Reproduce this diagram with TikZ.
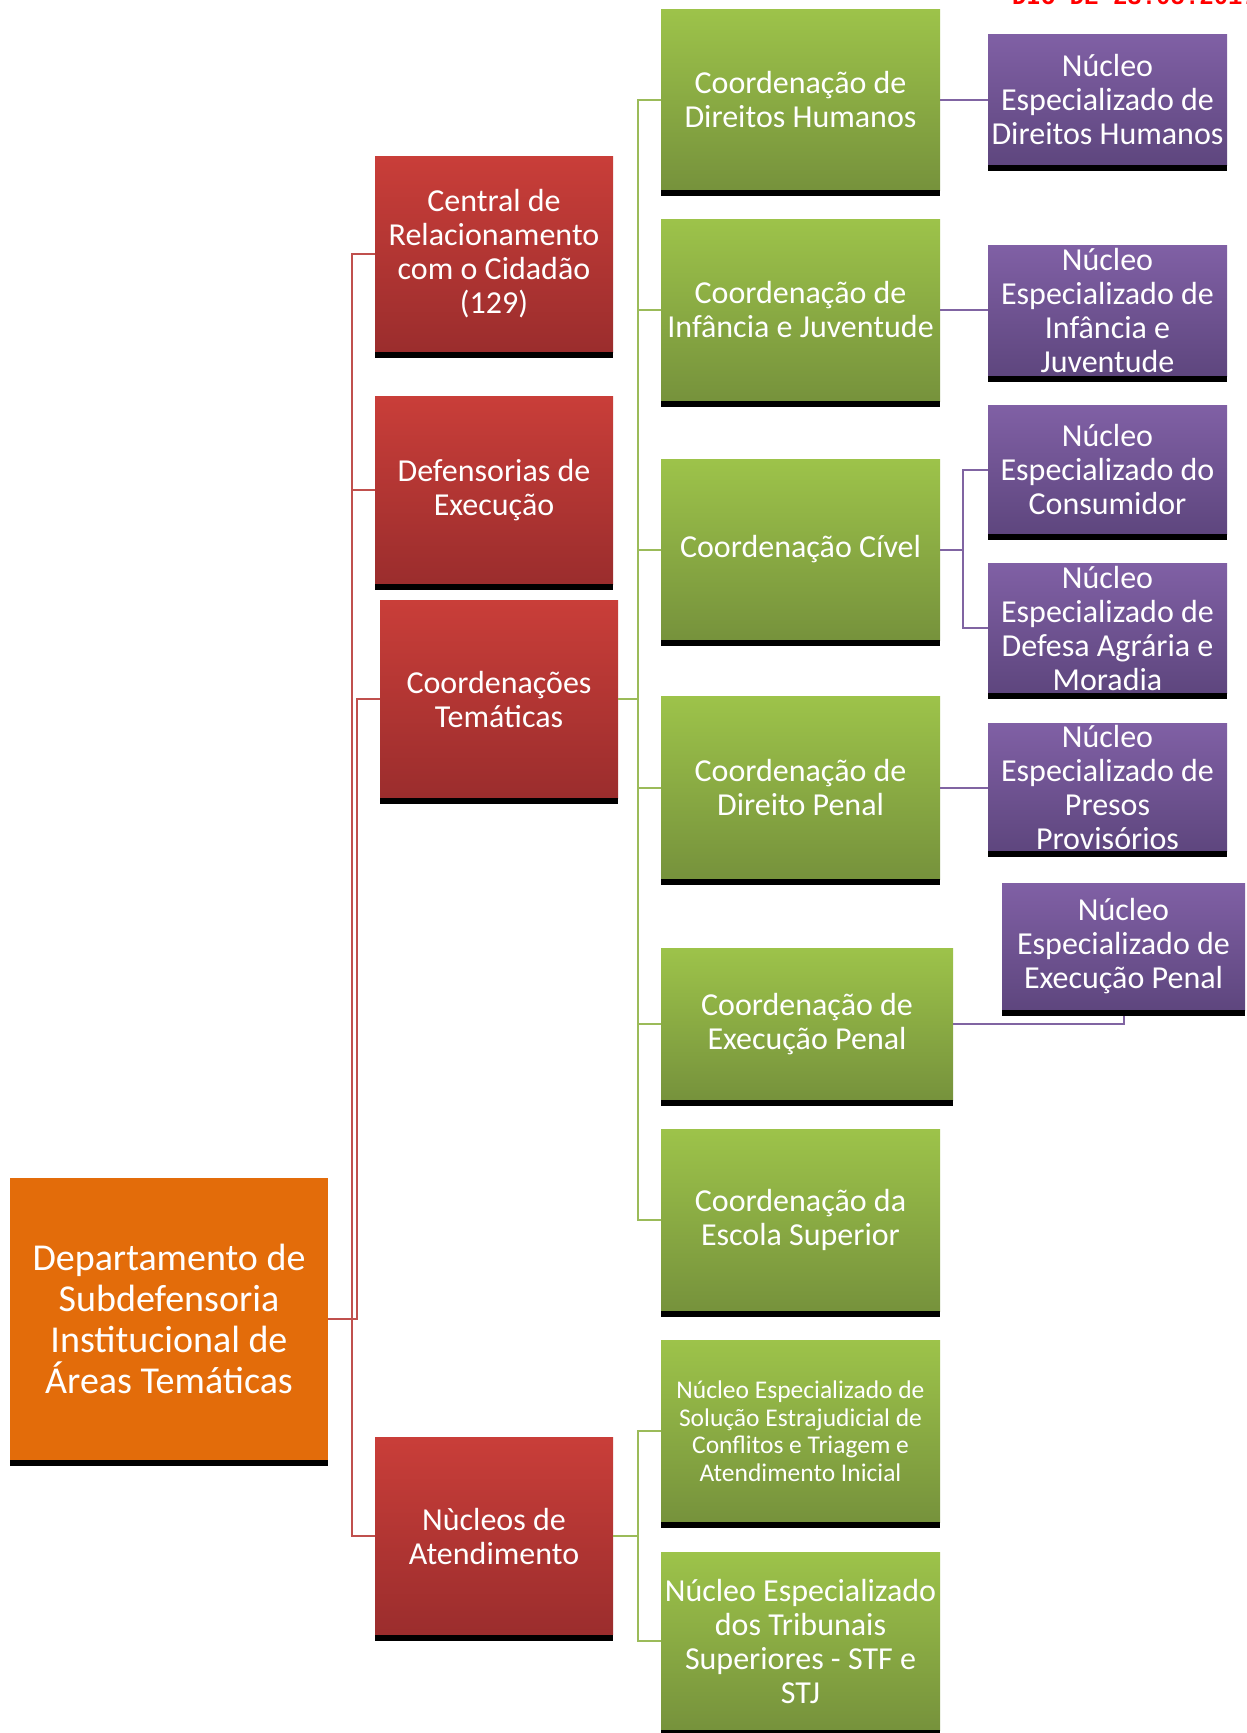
\documentclass[tikz,border=0pt]{standalone}
\usepackage{fontspec}
\setmainfont{Carlito}
\newfontfamily\datefont{Liberation Mono}

\definecolor{deporange}{RGB}{227,108,10}
\definecolor{redtop}{RGB}{201,62,57}
\definecolor{redbot}{RGB}{155,45,45}
\definecolor{greentop}{RGB}{157,195,74}
\definecolor{greenbot}{RGB}{118,146,60}
\definecolor{purpletop}{RGB}{128,96,165}
\definecolor{purplebot}{RGB}{94,70,126}
\definecolor{redlink}{RGB}{192,80,77}
\definecolor{greenlink}{RGB}{155,187,89}
\definecolor{purplelink}{RGB}{128,100,162}

\begin{document}
\begin{tikzpicture}[x=1pt,y=-1pt]
\tikzset{
	box/.style = {
		inner sep=0pt, align=center, text=white,
		font=\fontsize{32}{34}\selectfont
	},
	depbox/.style={
		box, fill=deporange,
		minimum width=318pt, minimum height=282pt,
		font=\fontsize{38}{41}\selectfont
	},
	redbox/.style={
		box, top color=redtop, bottom color=redbot,
		minimum width=238pt
	},
	greenbox/.style={
		box, top color=greentop, bottom color=greenbot,
		minimum width=279pt
	},
	purplebox/.style={
		box, top color=purpletop, bottom color=purplebot,
		minimum width=239pt
	},
	redline/.style={draw=redlink, line width=2pt},
	greenline/.style={draw=greenlink, line width=2pt},
	purpleline/.style={draw=purplelink, line width=2pt},
}

\useasboundingbox (0,0) rectangle (1247,1733);

% date stamp, cut off at the top
\begin{scope}
\clip (0,0) rectangle (1247,1733);
\node [anchor=base west, inner sep=0pt, text=red,
  font=\datefont\bfseries\fontsize{24}{24}\selectfont] (dio) at (1012,4) {DIO DE 23.05.2017};
\end{scope}

% the department
\node [depbox] (dep) at (169,1319) {Departamento de\\Subdefensoria\\Institucional de\\Áreas Temáticas};

% red level
\node [redbox, minimum height=196pt] (crc) at (494,254) {Central de\\Relacionamento\\com o Cidadão\\(129)};
\node [redbox, minimum height=188pt] (exe) at (494,490) {Defensorias de\\Execução};
\node [redbox, minimum height=198pt] (ct) at (499,699) {Coordenações\\Temáticas};
\node [redbox, minimum height=197pt] (nat) at (494,1536) {Nùcleos de\\Atendimento};

% green level
\node [greenbox, minimum height=181pt] (cdh) at (800.5,99.5) {Coordenação de\\Direitos Humanos};
\node [greenbox, minimum height=182pt] (cij) at (800.5,310) {Coordenação de\\Infância e Juventude};
\node [greenbox, minimum height=181pt] (cci) at (800.5,549.5) {Coordenação Cível};
\node [greenbox, minimum height=183pt] (cdp) at (800.5,787.5) {Coordenação de\\Direito Penal};
\node [greenbox, minimum width=292pt, minimum height=152pt] (cep) at (807,1024) {Coordenação de\\Execução Penal};
\node [greenbox, minimum height=182pt] (ces) at (800.5,1220) {Coordenação da\\Escola Superior};
\node [greenbox, minimum height=182pt, font=\fontsize{25.5}{27.5}\selectfont] (nsc) at (800.5,1431)
  {Núcleo Especializado de\\Solução Estrajudicial de\\Conflitos e Triagem e\\Atendimento Inicial};
\node [greenbox, minimum height=178pt] (nts) at (800.5,1641) {Núcleo Especializado\\dos Tribunais\\Superiores - STF e\\STJ};

% purple level
\node [purplebox, minimum height=131pt] (ndh) at (1107.5,99.5) {Núcleo\\Especializado de\\Direitos Humanos};
\node [purplebox, minimum height=131pt] (nij) at (1107.5,310.5) {Núcleo\\Especializado de\\Infância e\\Juventude};
\node [purplebox, minimum height=129pt] (ncon) at (1107.5,469.5) {Núcleo\\Especializado do\\Consumidor};
\node [purplebox, minimum height=130pt] (nagr) at (1107.5,628) {Núcleo\\Especializado de\\Defesa Agrária e\\Moradia};
\node [purplebox, minimum height=128pt] (npp) at (1107.5,787) {Núcleo\\Especializado de\\Presos\\Provisórios};
\node [purplebox, minimum width=243pt, minimum height=127pt] (nep) at (1123.5,946.5) {Núcleo\\Especializado de\\Execução Penal};

% attach them
\foreach \c in {crc,exe,nat}
  \path [redline] (dep.east) -- ++(24,0) |- (\c.west);
\path [redline] (dep.east) -- ++(29,0) |- (ct.west);

\foreach \c in {cdh,cij,cci,cdp,cep,ces}
  \path [greenline] (ct.east) -- ++(20,0) |- (\c.west);
\foreach \c in {nsc,nts}
  \path [greenline] (nat.east) -- ++(25,0) |- (\c.west);

\path [purpleline] (cdh.east) -- (cdh.east -| ndh.west);
\path [purpleline] (cij.east) -- (cij.east -| nij.west);
\path [purpleline] (cci.east) -- ++(23,0) |- (ncon.west);
\path [purpleline] (cci.east) -- ++(23,0) |- (nagr.west);
\path [purpleline] (cdp.east) -- (cdp.east -| npp.west);
\path [purpleline] (cep.east) -| (nep.south);

% black bars under the boxes
\foreach \n in {dep,crc,exe,ct,nat,cdh,cij,cci,cdp,cep,ces,nsc,nts,ndh,nij,ncon,nagr,npp,nep}
  \fill [black] (\n.south west) rectangle ([yshift=-6pt]\n.south east);

\end{tikzpicture}
\end{document}
